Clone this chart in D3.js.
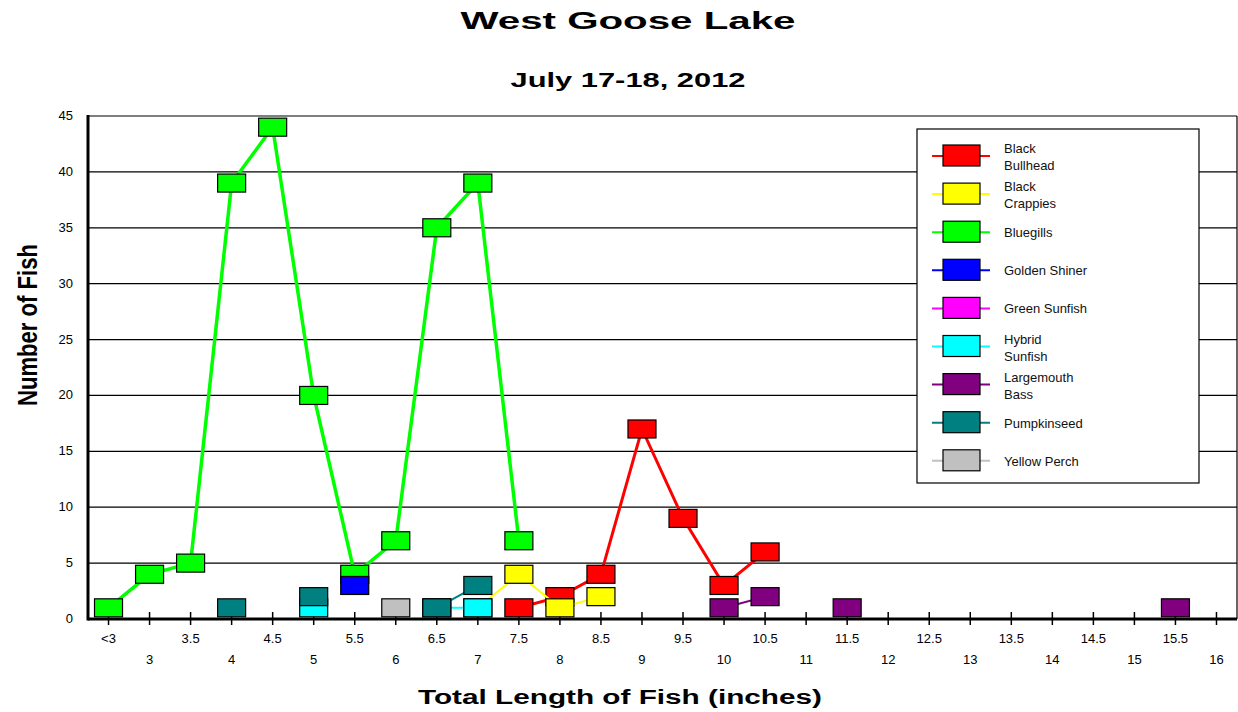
<!DOCTYPE html>
<html lang="en">
  <head>
    <title>West Goose Lake</title>
    <script src="https://cdn.jsdelivr.net/npm/d3@7"></script>
    <style>
      body { margin: 0; background: #fff; }
      text { font-family: 'Liberation Sans', Arial, sans-serif; }
    </style>
  </head>
  <body>
    <div id="chart"></div>
    <script type="text/javascript">
      // length classes along the x axis
      let categories = ['<3', '3', '3.5', '4', '4.5', '5', '5.5', '6', '6.5', '7', '7.5', '8', '8.5', '9',
                        '9.5', '10', '10.5', '11', '11.5', '12', '12.5', '13', '13.5', '14', '14.5', '15', '15.5', '16']
      let yTicks = [0, 5, 10, 15, 20, 25, 30, 35, 40, 45]

      let species = ['Black\nBullhead', 'Black\nCrappies', 'Bluegills', 'Golden Shiner', 'Green Sunfish',
                     'Hybrid\nSunfish', 'Largemouth\nBass', 'Pumpkinseed', 'Yellow Perch']
      let colors = ['#ff0000', '#ffff00', '#00ff00', '#0000ff', '#ff00ff', '#00ffff', '#800080', '#008080', '#c0c0c0']

      // counts per length class (null = no fish in that class)
      let _ = null
      let blackBullhead = [_, _, _, _, _, _, _, _, _, _, 1, 2, 4, 17, 9, 3, 6, _, _, _, _, _, _, _, _, _, _, _]
      let blackCrappies = [_, _, _, _, _, _, _, _, _, 1, 4, 1, 2, _, _, _, _, _, _, _, _, _, _, _, _, _, _, _]
      let bluegills     = [1, 4, 5, 39, 44, 20, 4, 7, 35, 39, 7, _, _, _, _, _, _, _, _, _, _, _, _, _, _, _, _, _]
      let goldenShiner  = [_, _, _, _, _, _, 3, _, _, _, _, _, _, _, _, _, _, _, _, _, _, _, _, _, _, _, _, _]
      let greenSunfish  = [_, _, _, _, _, _, _, _, _, _, _, _, _, _, _, _, _, _, _, _, _, _, _, _, _, _, _, _]
      let hybridSunfish = [_, _, _, _, _, 1, _, _, 1, 1, _, _, _, _, _, _, _, _, _, _, _, _, _, _, _, _, _, _]
      let largemouth    = [_, _, _, _, _, _, _, _, _, _, _, _, _, _, _, 1, 2, _, 1, _, _, _, _, _, _, _, 1, _]
      let pumpkinseed   = [_, _, _, 1, _, 2, _, _, 1, 3, _, _, _, _, _, _, _, _, _, _, _, _, _, _, _, _, _, _]
      let yellowPerch   = [_, _, _, _, _, _, _, 1, _, _, _, _, _, _, _, _, _, _, _, _, _, _, _, _, _, _, _, _]

      let seriesValues = [blackBullhead, blackCrappies, bluegills, goldenShiner, greenSunfish,
                          hybridSunfish, largemouth, pumpkinseed, yellowPerch]
      let lineWidths = [3, 2, 3.5, 2, 2, 2, 2, 2, 2]

      let width = 1238
      let height = 712
      let plot = { left: 88, right: 1237, top: 116, bottom: 619 }

      let svg = d3.select('#chart').append('svg')
        .attr('width', width)
        .attr('height', height)

      let x = d3.scaleBand()
        .domain(categories)
        .range([plot.left, plot.right])
      let y = d3.scaleLinear()
        .domain([0, 45])
        .range([plot.bottom, plot.top])

      // horizontal gridlines
      svg.selectAll('line.grid')
        .data(yTicks.filter(d => d > 0))
        .enter()
        .append('line')
        .attr('class', 'grid')
        .attr('x1', plot.left)
        .attr('x2', plot.right)
        .attr('y1', d => y(d))
        .attr('y2', d => y(d))
        .attr('stroke', '#000')
        .attr('stroke-width', 1.2)

      // right border
      svg.append('line')
        .attr('x1', plot.right).attr('x2', plot.right)
        .attr('y1', plot.top).attr('y2', plot.bottom)
        .attr('stroke', '#000').attr('stroke-width', 1.2)

      // y tick labels
      svg.selectAll('text.ytick')
        .data(yTicks)
        .enter()
        .append('text')
        .attr('class', 'ytick')
        .attr('x', 73)
        .attr('y', d => y(d) + 4)
        .attr('text-anchor', 'end')
        .attr('font-size', '13px')
        .text(d => d)

      // x ticks, crossing the axis
      svg.selectAll('line.xtick')
        .data(categories)
        .enter()
        .append('line')
        .attr('class', 'xtick')
        .attr('x1', d => x(d) + x.bandwidth() / 2)
        .attr('x2', d => x(d) + x.bandwidth() / 2)
        .attr('y1', plot.bottom - 7)
        .attr('y2', plot.bottom + 6)
        .attr('stroke', '#000')
        .attr('stroke-width', 1.5)

      // x tick labels in two staggered rows
      svg.selectAll('text.xtick')
        .data(categories)
        .enter()
        .append('text')
        .attr('class', 'xtick')
        .attr('x', d => x(d) + x.bandwidth() / 2)
        .attr('y', (d, i) => i % 2 == 0 ? 643 : 664)
        .attr('text-anchor', 'middle')
        .attr('font-size', '13px')
        .text(d => d)

      // series: line first, then its markers
      let line = d3.line()
        .defined(d => d.v != null)
        .x(d => x(d.c) + x.bandwidth() / 2)
        .y(d => y(d.v))

      seriesValues.forEach((vals, s) => {
        let pts = vals.map((v, i) => ({ c: categories[i], v: v }))
        let g = svg.append('g')
        g.append('path')
          .attr('d', line(pts))
          .attr('fill', 'none')
          .attr('stroke', colors[s])
          .attr('stroke-width', lineWidths[s])
        g.selectAll('rect')
          .data(pts.filter(d => d.v != null))
          .enter()
          .append('rect')
          .attr('x', d => x(d.c) + x.bandwidth() / 2 - 14)
          .attr('y', d => y(d.v) - 9)
          .attr('width', 28)
          .attr('height', 18)
          .attr('fill', colors[s])
          .attr('stroke', '#000')
          .attr('stroke-width', 1.2)
      })

      // axes lines (thick)
      svg.append('line')
        .attr('x1', plot.left).attr('x2', plot.left)
        .attr('y1', plot.top - 1).attr('y2', plot.bottom + 1.5)
        .attr('stroke', '#000').attr('stroke-width', 3)
      svg.append('line')
        .attr('x1', plot.left).attr('x2', plot.right)
        .attr('y1', plot.bottom).attr('y2', plot.bottom)
        .attr('stroke', '#000').attr('stroke-width', 3)

      // legend
      let legend = svg.append('g')
      legend.append('rect')
        .attr('x', 917).attr('y', 129)
        .attr('width', 282).attr('height', 354)
        .attr('fill', '#fff')
        .attr('stroke', '#000')
        .attr('stroke-width', 1.2)

      species.forEach((name, s) => {
        let cy = 156 + s * 38.1
        legend.append('line')
          .attr('x1', 932).attr('x2', 990)
          .attr('y1', cy).attr('y2', cy)
          .attr('stroke', colors[s])
          .attr('stroke-width', 2)
        legend.append('rect')
          .attr('x', 943).attr('y', cy - 11)
          .attr('width', 37).attr('height', 21)
          .attr('fill', colors[s])
          .attr('stroke', '#000')
          .attr('stroke-width', 1.2)
        let parts = name.split('\n')
        let t = legend.append('text')
          .attr('font-size', '13px')
          .attr('fill', '#111')
        parts.forEach((p, k) => {
          t.append('tspan')
            .attr('x', 1004)
            .attr('y', parts.length == 1 ? cy + 5 : cy - 3 + k * 17)
            .text(p)
        })
      })

      // titles
      svg.append('text')
        .attr('x', 628).attr('y', 29)
        .attr('text-anchor', 'middle')
        .attr('font-family', 'DejaVu Sans')
        .attr('font-weight', 'bold')
        .attr('font-size', '23px')
        .attr('textLength', 335)
        .attr('lengthAdjust', 'spacingAndGlyphs')
        .text('West Goose Lake')
      svg.append('text')
        .attr('x', 628).attr('y', 87)
        .attr('text-anchor', 'middle')
        .attr('font-weight', 'bold')
        .attr('font-size', '20px')
        .attr('textLength', 235)
        .attr('lengthAdjust', 'spacingAndGlyphs')
        .text('July 17-18, 2012')
      svg.append('text')
        .attr('x', 620).attr('y', 704)
        .attr('text-anchor', 'middle')
        .attr('font-weight', 'bold')
        .attr('font-size', '20px')
        .attr('textLength', 404)
        .attr('lengthAdjust', 'spacingAndGlyphs')
        .text('Total Length of Fish (inches)')
      svg.append('text')
        .attr('transform', 'translate(37,325) rotate(-90)')
        .attr('text-anchor', 'middle')
        .attr('font-weight', 'bold')
        .attr('font-size', '27px')
        .attr('textLength', 162)
        .attr('lengthAdjust', 'spacingAndGlyphs')
        .text('Number of Fish')
    </script>
  </body>
</html>
